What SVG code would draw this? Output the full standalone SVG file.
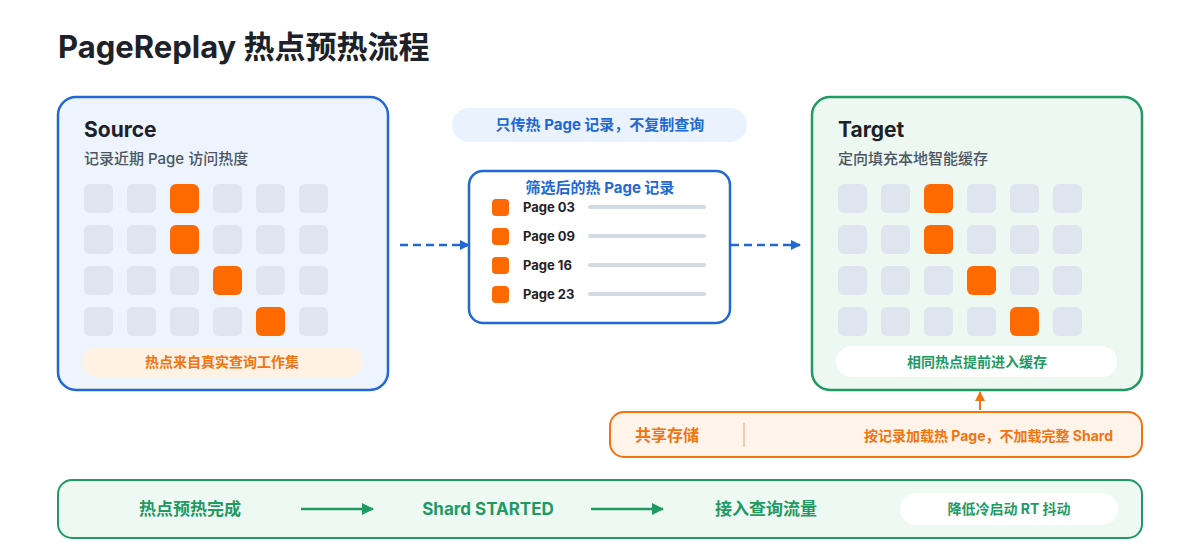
<svg xmlns="http://www.w3.org/2000/svg" width="1200" height="560" viewBox="0 0 1200 560">
<defs>
<style>
text{font-family:"Inter","Noto Sans","Noto Sans CJK SC",sans-serif;}
.cjk{font-family:"Inter","Noto Sans CJK SC",sans-serif;}
.title{font-size:31px;font-weight:700;fill:#1d2129;}
.h{font-size:21px;font-weight:700;fill:#1d2129;}
.sub{font-size:15px;font-weight:500;fill:#4b5563;}
.cell{fill:#dfe5ee;}
.hot{fill:#ff6a00;}
.blue{fill:#2168d3;font-weight:700;}
.green{fill:#1f9a63;font-weight:700;}
.orange{fill:#f2740f;font-weight:700;}
.pg{font-size:13px;font-weight:700;fill:#1f2328;}
.bar{fill:#d3dae3;}
</style>
<marker id="ab" markerWidth="10" markerHeight="10" refX="9" refY="5" orient="auto" markerUnits="userSpaceOnUse"><path d="M0,0 L10,5 L0,10 z" fill="#2168d3"/></marker>
<marker id="ag" markerWidth="12" markerHeight="12" refX="11" refY="6" orient="auto" markerUnits="userSpaceOnUse"><path d="M0,0 L12,6 L0,12 z" fill="#1f9a63"/></marker>
<marker id="ao" markerWidth="10" markerHeight="10" refX="9" refY="5" orient="auto" markerUnits="userSpaceOnUse"><path d="M0,0 L10,5 L0,10 z" fill="#f2740f"/></marker>
</defs>
<rect width="1200" height="560" fill="#ffffff"/>
<text class="title cjk" x="58" y="58">PageReplay 热点预热流程</text>

<g id="source">
<rect x="58" y="97" width="330" height="293" rx="18" fill="#eef4fe" stroke="#2168d3" stroke-width="2.5"/>
<text class="h" x="84" y="137">Source</text>
<text class="sub cjk" x="84" y="164">记录近期 Page 访问热度</text>
<g>
<rect class="cell" x="84" y="184" width="29" height="29" rx="6"/><rect class="cell" x="127" y="184" width="29" height="29" rx="6"/><rect class="hot" x="170" y="184" width="29" height="29" rx="6"/><rect class="cell" x="213" y="184" width="29" height="29" rx="6"/><rect class="cell" x="256" y="184" width="29" height="29" rx="6"/><rect class="cell" x="299" y="184" width="29" height="29" rx="6"/>
<rect class="cell" x="84" y="225" width="29" height="29" rx="6"/><rect class="cell" x="127" y="225" width="29" height="29" rx="6"/><rect class="hot" x="170" y="225" width="29" height="29" rx="6"/><rect class="cell" x="213" y="225" width="29" height="29" rx="6"/><rect class="cell" x="256" y="225" width="29" height="29" rx="6"/><rect class="cell" x="299" y="225" width="29" height="29" rx="6"/>
<rect class="cell" x="84" y="266" width="29" height="29" rx="6"/><rect class="cell" x="127" y="266" width="29" height="29" rx="6"/><rect class="cell" x="170" y="266" width="29" height="29" rx="6"/><rect class="hot" x="213" y="266" width="29" height="29" rx="6"/><rect class="cell" x="256" y="266" width="29" height="29" rx="6"/><rect class="cell" x="299" y="266" width="29" height="29" rx="6"/>
<rect class="cell" x="84" y="307" width="29" height="29" rx="6"/><rect class="cell" x="127" y="307" width="29" height="29" rx="6"/><rect class="cell" x="170" y="307" width="29" height="29" rx="6"/><rect class="cell" x="213" y="307" width="29" height="29" rx="6"/><rect class="hot" x="256" y="307" width="29" height="29" rx="6"/><rect class="cell" x="299" y="307" width="29" height="29" rx="6"/>
</g>
<rect x="82" y="347" width="281" height="30" rx="15" fill="#fff1e4"/>
<text class="orange cjk" x="222" y="367" font-size="14" text-anchor="middle">热点来自真实查询工作集</text>
</g>

<g id="note">
<rect x="452" y="108" width="295" height="34" rx="17" fill="#eaf2fd"/>
<text class="blue cjk" x="600" y="130" font-size="15" text-anchor="middle">只传热 Page 记录，不复制查询</text>
</g>

<g id="records">
<rect x="469" y="171" width="261" height="152" rx="14" fill="#ffffff" stroke="#2168d3" stroke-width="2.5"/>
<text class="blue cjk" x="600" y="193" font-size="15" text-anchor="middle">筛选后的热 Page 记录</text>
<rect class="hot" x="492" y="199" width="17" height="17" rx="4"/><text class="pg" x="523" y="212">Page 03</text><rect class="bar" x="588" y="205" width="118" height="4" rx="2"/>
<rect class="hot" x="492" y="228" width="17" height="17" rx="4"/><text class="pg" x="523" y="241">Page 09</text><rect class="bar" x="588" y="234" width="118" height="4" rx="2"/>
<rect class="hot" x="492" y="257" width="17" height="17" rx="4"/><text class="pg" x="523" y="270">Page 16</text><rect class="bar" x="588" y="263" width="118" height="4" rx="2"/>
<rect class="hot" x="492" y="286" width="17" height="17" rx="4"/><text class="pg" x="523" y="299">Page 23</text><rect class="bar" x="588" y="292" width="118" height="4" rx="2"/>
</g>

<g id="target">
<rect x="812" y="97" width="330" height="293" rx="18" fill="#ecf8f1" stroke="#1f9a63" stroke-width="2.5"/>
<text class="h" x="838" y="137">Target</text>
<text class="sub cjk" x="838" y="164">定向填充本地智能缓存</text>
<g>
<rect class="cell" x="838" y="184" width="29" height="29" rx="6"/><rect class="cell" x="881" y="184" width="29" height="29" rx="6"/><rect class="hot" x="924" y="184" width="29" height="29" rx="6"/><rect class="cell" x="967" y="184" width="29" height="29" rx="6"/><rect class="cell" x="1010" y="184" width="29" height="29" rx="6"/><rect class="cell" x="1053" y="184" width="29" height="29" rx="6"/>
<rect class="cell" x="838" y="225" width="29" height="29" rx="6"/><rect class="cell" x="881" y="225" width="29" height="29" rx="6"/><rect class="hot" x="924" y="225" width="29" height="29" rx="6"/><rect class="cell" x="967" y="225" width="29" height="29" rx="6"/><rect class="cell" x="1010" y="225" width="29" height="29" rx="6"/><rect class="cell" x="1053" y="225" width="29" height="29" rx="6"/>
<rect class="cell" x="838" y="266" width="29" height="29" rx="6"/><rect class="cell" x="881" y="266" width="29" height="29" rx="6"/><rect class="cell" x="924" y="266" width="29" height="29" rx="6"/><rect class="hot" x="967" y="266" width="29" height="29" rx="6"/><rect class="cell" x="1010" y="266" width="29" height="29" rx="6"/><rect class="cell" x="1053" y="266" width="29" height="29" rx="6"/>
<rect class="cell" x="838" y="307" width="29" height="29" rx="6"/><rect class="cell" x="881" y="307" width="29" height="29" rx="6"/><rect class="cell" x="924" y="307" width="29" height="29" rx="6"/><rect class="cell" x="967" y="307" width="29" height="29" rx="6"/><rect class="hot" x="1010" y="307" width="29" height="29" rx="6"/><rect class="cell" x="1053" y="307" width="29" height="29" rx="6"/>
</g>
<rect x="836" y="346" width="281" height="31" rx="15.5" fill="#ffffff"/>
<text class="green cjk" x="977" y="367" font-size="14" text-anchor="middle">相同热点提前进入缓存</text>
</g>

<g id="storage">
<rect x="610" y="412" width="532" height="45" rx="14" fill="#fff3ea" stroke="#f2740f" stroke-width="2"/>
<text class="orange cjk" x="635" y="441" font-size="16">共享存储</text>
<line x1="744" y1="423" x2="744" y2="447" stroke="#e6c2a6" stroke-width="1.5"/>
<text class="orange cjk" x="1113" y="441" font-size="14" text-anchor="end">按记录加载热 Page，不加载完整 Shard</text>
</g>

<g id="timeline">
<rect x="58" y="480" width="1084" height="58" rx="14" fill="#eef9f3" stroke="#1f9a63" stroke-width="2"/>
<text class="green cjk" x="190" y="515" font-size="17" text-anchor="middle">热点预热完成</text>
<text class="green" x="488" y="515" font-size="17" text-anchor="middle">Shard STARTED</text>
<text class="green cjk" x="766" y="515" font-size="17" text-anchor="middle">接入查询流量</text>
<rect x="900" y="493" width="218" height="32" rx="16" fill="#ffffff"/>
<text class="green cjk" x="1009" y="514" font-size="14" text-anchor="middle">降低冷启动 RT 抖动</text>
</g>

<g id="connectors">
<line x1="400" y1="245" x2="469" y2="245" stroke="#2168d3" stroke-width="2.5" stroke-dasharray="8 5" marker-end="url(#ab)"/>
<line x1="731" y1="245" x2="800" y2="245" stroke="#2168d3" stroke-width="2.5" stroke-dasharray="8 5" marker-end="url(#ab)"/>
<line x1="980" y1="410" x2="980" y2="392" stroke="#f2740f" stroke-width="2" marker-end="url(#ao)"/>
<line x1="301" y1="509" x2="373" y2="509" stroke="#1f9a63" stroke-width="2.5" marker-end="url(#ag)"/>
<line x1="591" y1="509" x2="663" y2="509" stroke="#1f9a63" stroke-width="2.5" marker-end="url(#ag)"/>
</g>
</svg>
